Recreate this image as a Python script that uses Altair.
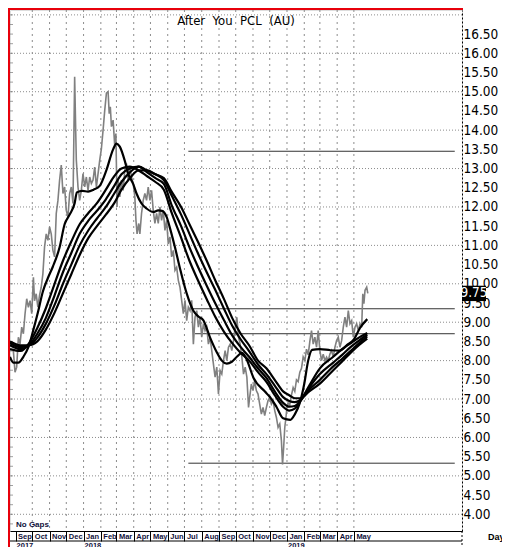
import altair as alt
import pandas as pd

BASE = pd.Timestamp("2017-10-01")


def to_dates(days):
    return [(BASE + pd.Timedelta(days=int(d))).strftime("%Y-%m-%d") for d in days]


# ---- data (days counted from 2017-10-01) ----
price_days = [-34, -31, -28, -25, -22, -19, -16, -13, -10, -7, -4, -1, 2, 4, 7, 10, 13, 16, 19, 22,
              25, 28, 31, 34, 37, 40, 43, 46, 49, 52, 55, 58, 61, 64, 67, 70, 73, 76, 78, 79,
              82, 85, 88, 91, 94, 97, 100, 103, 106, 109, 112, 115, 118, 121, 124, 127, 130, 133, 136, 138,
              140, 142, 145, 148, 150, 151, 152, 154, 157, 160, 163, 166, 169, 172, 175, 178, 181, 184, 186, 188,
              191, 193, 196, 199, 202, 205, 208, 211, 214, 217, 220, 223, 226, 229, 232, 235, 238, 241, 244, 247,
              250, 253, 256, 259, 262, 265, 268, 271, 274, 277, 280, 283, 286, 289, 292, 295, 298, 301, 304, 307,
              310, 313, 316, 319, 322, 325, 328, 331, 334, 337, 340, 343, 346, 349, 352, 355, 358, 361, 364, 367,
              370, 373, 376, 379, 382, 385, 388, 390, 393, 396, 399, 402, 405, 408, 411, 414, 417, 420, 423, 426,
              429, 432, 435, 438, 441, 444, 447, 449, 451, 453, 455, 457, 459, 462, 465, 468, 471, 474, 477, 480,
              483, 486, 489, 492, 495, 498, 501, 504, 507, 510, 513, 516, 519, 522, 525, 528, 531, 534, 537, 540,
              543, 546, 549, 552, 555, 558, 561, 564, 567, 570, 573, 576, 579, 582, 585, 588, 591, 593, 595, 597,
              600, 602]
price_vals = [8.26, 7.70, 7.83, 8.61, 8.43, 8.87, 8.70, 9.22, 9.61, 9.39, 9.56, 9.22, 10.17, 9.56, 9.74, 9.39, 9.70, 9.91, 10.26, 10.96,
              11.30, 11.13, 11.48, 11.30, 10.87, 10.70, 11.83, 12.17, 12.70, 13.09, 12.35, 12.52, 11.91, 11.74, 12.35, 12.52, 12.09, 15.39, 13.91, 13.22,
              12.52, 12.17, 12.43, 12.87, 12.52, 12.78, 12.43, 12.78, 12.61, 12.70, 13.04, 12.52, 12.87, 13.22, 13.52, 14.00, 14.52, 14.96, 15.00, 14.43,
              14.61, 14.09, 14.26, 13.57, 13.91, 13.04, 12.00, 12.70, 12.26, 12.70, 12.43, 12.96, 13.13, 12.70, 13.04, 12.78, 12.61, 12.26, 11.65, 11.30,
              11.57, 11.30, 11.83, 12.17, 12.35, 12.17, 12.52, 12.17, 12.43, 11.91, 11.57, 11.83, 11.57, 12.00, 11.65, 11.91, 11.39, 11.65, 11.04, 11.22,
              10.70, 10.87, 10.35, 10.43, 10.09, 9.91, 9.57, 9.22, 9.57, 9.04, 9.39, 9.30, 9.57, 8.43, 9.13, 9.30, 8.87, 9.13, 8.61, 8.96,
              8.78, 8.87, 8.43, 8.61, 8.26, 7.91, 7.57, 7.83, 7.13, 7.74, 7.65, 8.00, 8.26, 8.00, 8.35, 8.43, 8.26, 8.52, 8.87, 9.13,
              8.61, 8.43, 8.09, 7.65, 7.83, 7.57, 6.78, 7.04, 7.39, 7.22, 7.48, 7.22, 7.13, 6.87, 6.61, 6.78, 6.57, 6.78, 6.96, 7.04,
              6.87, 6.96, 6.70, 6.52, 6.26, 6.35, 5.91, 5.30, 5.74, 6.26, 6.50, 6.80, 6.90, 6.85, 7.10, 7.30, 7.20, 7.50, 7.45, 7.70,
              7.80, 8.10, 8.00, 8.30, 8.15, 8.50, 8.78, 8.43, 8.61, 8.35, 8.78, 8.26, 8.00, 8.17, 8.00, 8.09, 8.00, 8.17, 8.26, 8.09,
              8.35, 8.52, 8.61, 8.35, 8.52, 8.87, 9.13, 8.87, 9.30, 8.96, 9.04, 8.61, 8.87, 8.96, 8.78, 8.96, 8.87, 9.74, 9.48, 9.83,
              9.91, 9.75]

fast_days = [-40, -34, -25, -16, -7, 1, 10, 19, 28, 37, 49, 58, 67, 76, 80, 90, 100, 110, 121, 133,
             145, 151, 157, 166, 172, 181, 187, 196, 205, 217, 226, 233, 241, 247, 256, 265, 277, 289, 298, 307,
             319, 331, 340, 349, 358, 367, 376, 384, 397, 417, 426, 438, 450, 463, 471, 480, 488, 495, 502, 516,
             535, 551, 566, 577, 588, 601]
fast_vals = [8.10, 7.95, 7.95, 8.10, 8.35, 8.75, 9.25, 9.80, 10.15, 10.45, 10.95, 11.55, 11.80, 12.10, 12.38, 12.42, 12.40, 12.45, 12.55, 12.96,
             13.50, 13.65, 13.57, 13.20, 12.87, 12.60, 12.35, 12.09, 11.96, 11.87, 11.91, 11.90, 11.74, 11.45, 10.95, 10.40, 9.75, 9.30, 9.15, 9.05,
             8.60, 8.22, 8.00, 7.92, 7.97, 8.10, 8.20, 8.05, 7.55, 7.20, 7.06, 6.80, 6.50, 6.46, 6.60, 6.90, 7.40, 8.00, 8.28, 8.30,
             8.27, 8.26, 8.42, 8.55, 8.85, 9.08]

slow_days = [-40, -21, -6, 9, 24, 40, 55, 70, 85, 101, 116, 132, 147, 160, 175, 191, 206, 221, 236, 250,
             267, 282, 297, 313, 328, 344, 359, 374, 389, 405, 420, 435, 450, 461, 471, 481, 497, 516, 540, 556,
             571, 586, 601]
ma2 = [8.30, 8.25, 8.45, 8.85, 9.35, 10.00, 10.60, 11.10, 11.55, 11.85, 12.10, 12.45, 12.80, 13.00, 13.05, 12.95, 12.80, 12.65, 12.45, 11.85,
       11.20, 10.60, 10.10, 9.60, 9.15, 8.75, 8.45, 8.20, 8.00, 7.70, 7.45, 7.10, 6.80, 6.70, 6.75, 6.95, 7.35, 7.80, 8.10, 8.30,
       8.45, 8.60, 8.72]
ma3 = [8.40, 8.30, 8.40, 8.70, 9.10, 9.70, 10.30, 10.80, 11.30, 11.65, 11.90, 12.20, 12.55, 12.85, 13.00, 13.05, 12.90, 12.75, 12.60, 12.05,
       11.50, 10.95, 10.45, 9.95, 9.50, 9.05, 8.65, 8.35, 8.10, 7.80, 7.55, 7.20, 6.90, 6.80, 6.82, 6.95, 7.30, 7.65, 7.95, 8.15,
       8.35, 8.52, 8.68]
ma4 = [8.45, 8.35, 8.40, 8.60, 8.95, 9.45, 10.00, 10.50, 11.00, 11.40, 11.70, 12.00, 12.35, 12.65, 12.90, 13.05, 12.95, 12.85, 12.70, 12.30,
       11.80, 11.30, 10.80, 10.30, 9.85, 9.35, 8.90, 8.55, 8.25, 7.90, 7.65, 7.35, 7.05, 6.95, 6.92, 6.98, 7.25, 7.50, 7.85, 8.05,
       8.25, 8.45, 8.63]
ma5 = [8.50, 8.40, 8.40, 8.50, 8.80, 9.25, 9.75, 10.25, 10.75, 11.20, 11.50, 11.80, 12.10, 12.45, 12.75, 12.95, 12.95, 12.85, 12.75, 12.40,
       12.00, 11.55, 11.10, 10.60, 10.10, 9.60, 9.10, 8.70, 8.40, 8.00, 7.80, 7.50, 7.20, 7.10, 7.02, 7.02, 7.20, 7.40, 7.75, 7.98,
       8.20, 8.40, 8.57]

level_vals = [13.45, 9.35, 8.70, 5.33]
level_start = [280, 280, 292, 280]
level_end = [758, 758, 758, 758]

month_starts = ["2017-09-01", "2017-10-01", "2017-11-01", "2017-12-01", "2018-01-01", "2018-02-01",
                "2018-03-01", "2018-04-01", "2018-05-01", "2018-06-01", "2018-07-01", "2018-08-01",
                "2018-09-01", "2018-10-01", "2018-11-01", "2018-12-01", "2019-01-01", "2019-02-01",
                "2019-03-01", "2019-04-01", "2019-05-01"]
grid_months = month_starts[1:]
year_labels = ["2017", "2018", "2019"]
year_dates = ["2017-09-01", "2018-01-01", "2019-01-01"]
y_labels = [4.0, 4.5, 5.0, 5.5, 6.0, 6.5, 7.0, 7.5, 8.0, 8.5, 9.0, 9.5, 10.0, 10.5, 11.0, 11.5, 12.0,
            12.5, 13.0, 13.5, 14.0, 14.5, 15.0, 15.5, 16.0, 16.5]
y_grid = [4, 5, 6, 7, 8, 9, 10, 11, 12, 13, 14, 15, 16, 17]
y_minor = [3.75 + 0.25 * i for i in range(54)]
last_price = 9.75
title_text = "After\u00a0 You\u00a0 PCL\u00a0 (AU)"

# ---- chart ----
W, H = 452, 521
NARROW = "Liberation Sans Narrow, DejaVu Sans Condensed, Liberation Sans"

xscale = alt.Scale(type="utc", domain=[alt.DateTime(year=2017, month=8, date=22, utc=True),
                                       alt.DateTime(year=2019, month=11, date=11, utc=True)])
yscale = alt.Scale(domain=[3.565, 17.127], zero=False, nice=False)

xaxis = alt.Axis(values=[alt.DateTime(year=int(s[:4]), month=int(s[5:7]), date=1, utc=True) for s in month_starts],
                 labelExpr="utcFormat(datum.value, '%b')", title=None, grid=False,
                 tickSize=10, tickColor="black", domainColor="black", labelAlign="left",
                 labelBaseline="top", labelPadding=-9, labelOffset=2, labelFontSize=7.5,
                 labelFont="Liberation Sans", labelFontWeight="bold", labelColor="#10103a",
                 labelOverlap=False, labelFlush=False)
yaxis = alt.Axis(orient="right", values=y_labels, format=".2f", title=None, grid=False,
                 ticks=False, labelPadding=1, labelFont=NARROW, labelFontSize=13.5,
                 labelColor="black", domainColor="black", domainDash=[2, 2],
                 labelOverlap=False, labelFlush=False, labelBaseline="middle")


def X(field="date"):
    return alt.X(f"{field}:T", scale=xscale, axis=xaxis)


def Y(field="v"):
    return alt.Y(f"{field}:Q", scale=yscale, axis=yaxis)


df_price = pd.DataFrame({"date": to_dates(price_days), "v": price_vals})
ma_rows = []
for d, v in zip(fast_days, fast_vals):
    ma_rows.append({"date": to_dates([d])[0], "v": v, "s": "m1"})
for name, vals in [("m2", ma2), ("m3", ma3), ("m4", ma4), ("m5", ma5)]:
    for d, v in zip(slow_days, vals):
        ma_rows.append({"date": to_dates([d])[0], "v": v, "s": name})
df_ma = pd.DataFrame(ma_rows)
df_levels = pd.DataFrame({"date": to_dates(level_start), "date2": to_dates(level_end), "v": level_vals})
df_gm = pd.DataFrame({"date": grid_months})
df_gy = pd.DataFrame({"v": y_grid})
df_minor = pd.DataFrame({"v": y_minor})
df_years = pd.DataFrame({"date": year_dates, "t": year_labels})
df_last = pd.DataFrame({"v": [last_price]})

grid_v = alt.Chart(df_gm).mark_rule(color="#8c8c8c", strokeDash=[2, 4], strokeWidth=1).encode(x=X())
grid_h = alt.Chart(df_gy).mark_rule(color="#8c8c8c", strokeDash=[1, 2], strokeWidth=1).encode(y=Y())
minor = alt.Chart(df_minor).mark_tick(color="#777777", size=3, thickness=1, orient="horizontal").encode(
    y=Y(), x=alt.value(1.5))
levels = alt.Chart(df_levels).mark_rule(color="#333333", strokeWidth=1).encode(x=X(), x2="date2:T", y=Y())
price = alt.Chart(df_price).mark_line(color="#808080", strokeWidth=1.6).encode(x=X(), y=Y())
mas = alt.Chart(df_ma).mark_line(color="black", strokeWidth=2.2, interpolate="monotone").encode(
    x=X(), y=Y(), detail="s:N")

# last-price box: black rectangle spanning about 0.2 either side of the value
box = alt.Chart(df_last).transform_calculate(
    lo="datum.v - 0.2", hi="datum.v + 0.2"
).mark_rect(color="black").encode(
    x=alt.value(W), x2=alt.value(W + 24), y=Y("lo"), y2="hi:Q")
box_txt = alt.Chart(df_last).mark_text(color="white", font=NARROW, fontSize=13.5, align="center",
                                       baseline="middle").encode(
    x=alt.value(W + 12), y=Y(), text=alt.Text("v:Q", format=".2f"))

years = alt.Chart(df_years).mark_text(align="left", baseline="top", fontSize=7.5, fontWeight="bold",
                                      font="Liberation Sans", color="#10103a", dx=1).encode(
    x=X(), y=alt.value(H + 11), text="t:N")

df_one = pd.DataFrame({"t": [title_text]})
title = alt.Chart(df_one).mark_text(font=NARROW, fontSize=13, color="black", align="center",
                                    baseline="middle").encode(x=alt.value(226), y=alt.value(11), text="t:N")
nogaps = alt.Chart(pd.DataFrame({"t": ["No Gaps"]})).mark_text(
    font="Liberation Sans", fontSize=8, fontWeight="bold", color="#10103a", align="left",
    baseline="middle").encode(x=alt.value(6), y=alt.value(H - 6), text="t:N")
day = alt.Chart(pd.DataFrame({"t": ["Day"]})).mark_text(
    font="Liberation Sans", fontSize=9, fontWeight="bold", color="black", align="left",
    baseline="middle").encode(x=alt.value(W + 26), y=alt.value(H + 6), text="t:N")

strip_bottom = alt.Chart(df_one).mark_rule(color="black", strokeWidth=1).encode(
    x=alt.value(0), x2=alt.value(W), y=alt.value(H + 10))
right_ext = alt.Chart(df_one).mark_rule(color="black", strokeWidth=1, strokeDash=[2, 2]).encode(
    x=alt.value(W), y=alt.value(H), y2=alt.value(H + 20))
red_left = alt.Chart(df_one).mark_rule(color="#e8000b", strokeWidth=2).encode(
    x=alt.value(-1), y=alt.value(-2), y2=alt.value(H + 20))
red_top = alt.Chart(df_one).mark_rule(color="#e8000b", strokeWidth=2).encode(
    x=alt.value(-2), x2=alt.value(W + 1), y=alt.value(-1))

chart = alt.layer(
    grid_v, grid_h, minor, levels, price, mas, box, box_txt, years, title, nogaps, day,
    strip_bottom, right_ext, red_left, red_top
).properties(
    width=W, height=H,
    autosize=alt.AutoSizeParams(type="none"),
    padding={"left": 2, "top": 2, "right": 40, "bottom": 16},
).configure_view(stroke=None).configure(background="white")

chart.save("out.html", embed_options={"renderer": "svg", "actions": False})
